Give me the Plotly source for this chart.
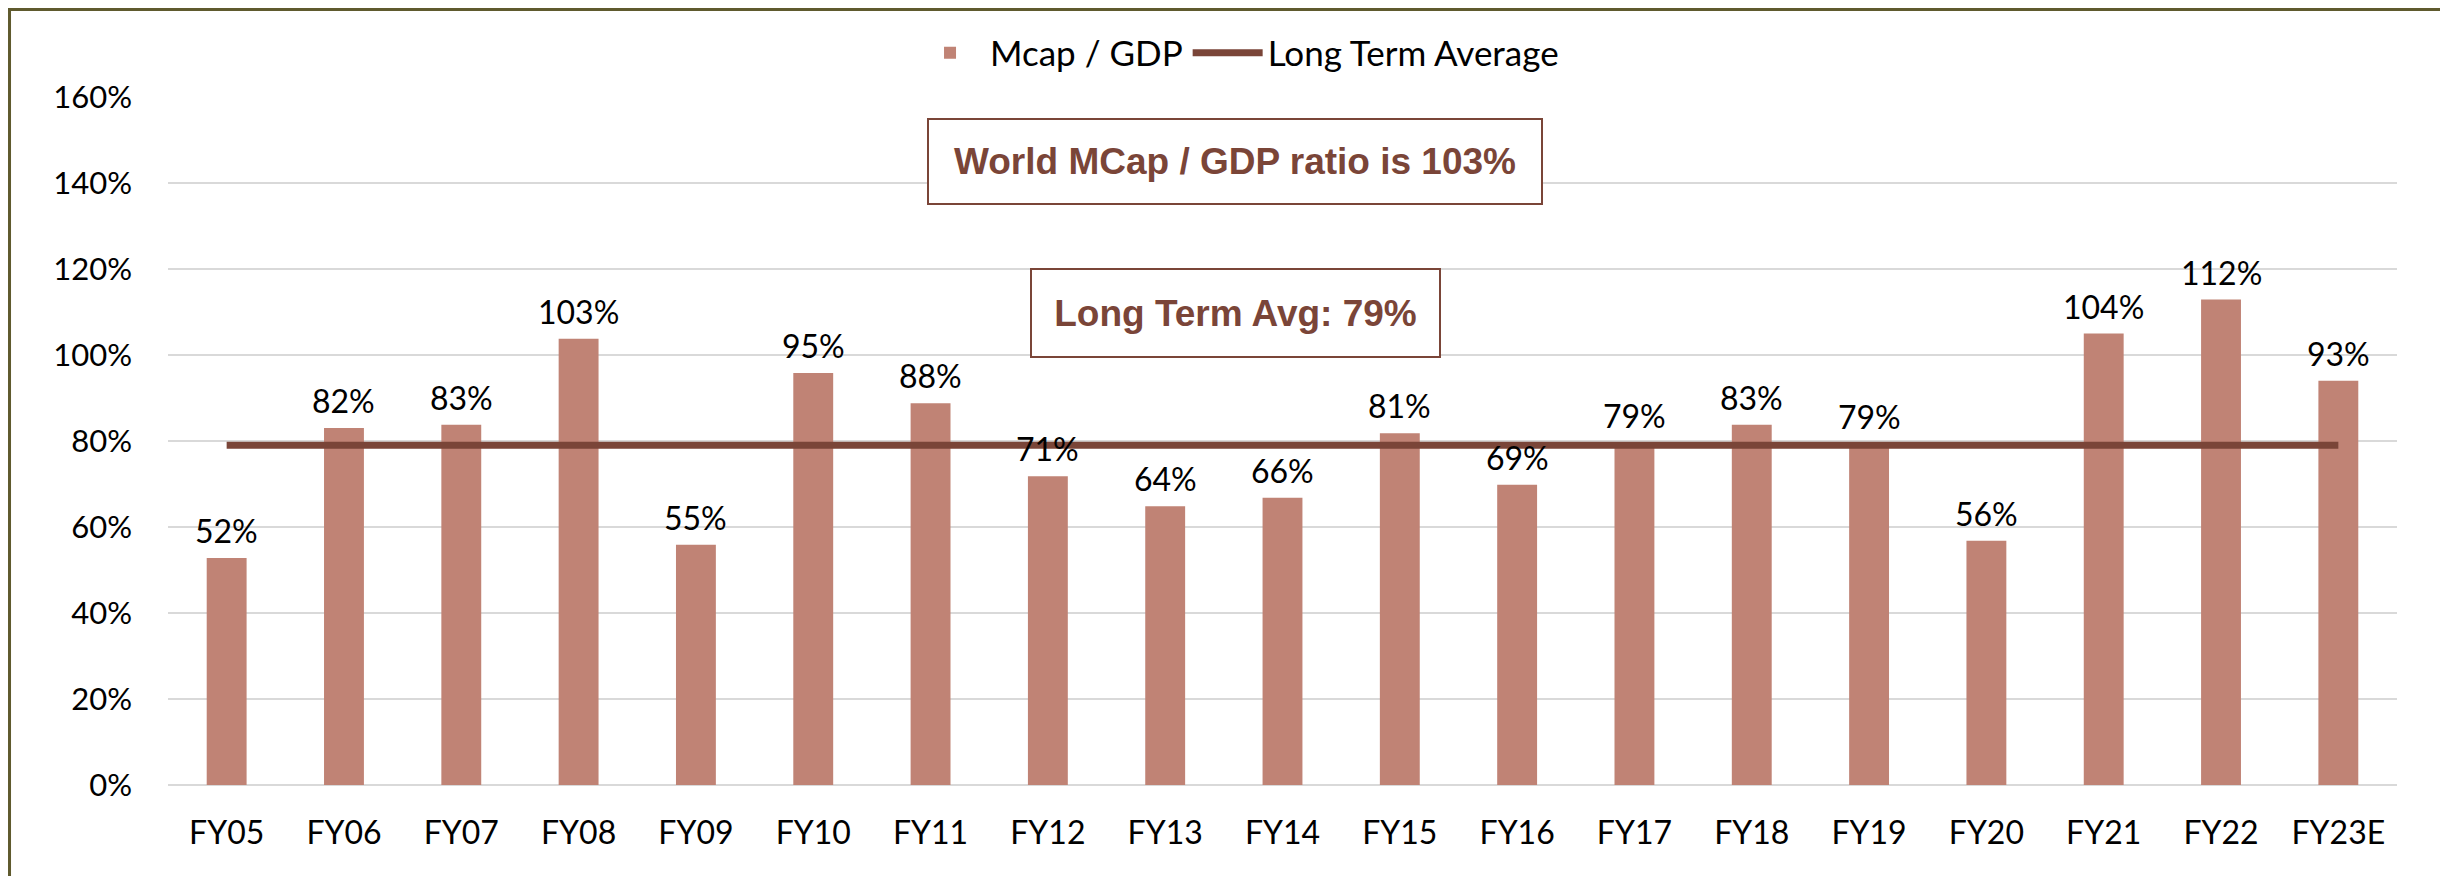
import plotly.graph_objects as go

# data
years = ['FY05', 'FY06', 'FY07', 'FY08', 'FY09', 'FY10', 'FY11', 'FY12', 'FY13', 'FY14',
         'FY15', 'FY16', 'FY17', 'FY18', 'FY19', 'FY20', 'FY21', 'FY22', 'FY23E']
mcap_gdp = [0.528, 0.830, 0.838, 1.038, 0.559, 0.958, 0.888, 0.718, 0.648, 0.668,
            0.818, 0.698, 0.796, 0.838, 0.792, 0.568, 1.050, 1.129, 0.940]
bar_labels = ['52%', '82%', '83%', '103%', '55%', '95%', '88%', '71%', '64%', '66%',
              '81%', '69%', '79%', '83%', '79%', '56%', '104%', '112%', '93%']
long_term_avg = [0.79, 0.79, 0.79, 0.79, 0.79, 0.79, 0.79, 0.79, 0.79, 0.79,
                 0.79, 0.79, 0.79, 0.79, 0.79, 0.79, 0.79, 0.79, 0.79]

BAR = '#C08375'
BROWN = '#7A4538'
LABEL_FONT = 'Lato'

fig = go.Figure()

fig.add_trace(go.Bar(x=years, y=mcap_gdp, name='Mcap / GDP',
                     marker=dict(color=BAR, line=dict(width=0))))

fig.add_trace(go.Scatter(x=years, y=long_term_avg, mode='lines',
                         name='Long Term Average',
                         line=dict(color=BROWN, width=7)))

# data labels above the bars
for yr, v, lab in zip(years, mcap_gdp, bar_labels):
    fig.add_annotation(x=yr, y=v, text=lab, showarrow=False,
                       yanchor='bottom', yshift=6,
                       font=dict(family=LABEL_FONT, size=32, color='#000000'))

# boxed call-outs
fig.add_annotation(xref='paper', yref='paper', x=0.4787, y=0.906,
                   xanchor='center', yanchor='middle',
                   text='<b>World MCap / GDP ratio is 103%</b>', showarrow=False,
                   font=dict(family='Liberation Sans', size=37, color=BROWN),
                   bordercolor=BROWN, borderwidth=2, borderpad=2,
                   width=608, height=79, bgcolor='white')
fig.add_annotation(xref='paper', yref='paper', x=0.4787, y=0.686,
                   xanchor='center', yanchor='middle',
                   text='<b>Long Term Avg: 79%</b>', showarrow=False,
                   font=dict(family='Liberation Sans', size=37, color=BROWN),
                   bordercolor=BROWN, borderwidth=2, borderpad=2,
                   width=403, height=82, bgcolor='white')

# outer chart border
fig.add_shape(type='rect', xref='paper', yref='paper',
              x0=-0.0711, x1=1.0224, y0=-0.3, y1=1.1272,
              line=dict(color='#5F5A2E', width=3), layer='below')

fig.update_layout(
    width=2440, height=868,
    margin=dict(l=160, r=51, t=89, b=91, autoexpand=False),
    plot_bgcolor='white', paper_bgcolor='white',
    bargap=0.66,
    font=dict(family=LABEL_FONT, size=32, color='#000000'),
    legend=dict(orientation='h', xref='container', yref='container',
                x=0.5037, y=0.9482, xanchor='center', yanchor='middle',
                font=dict(family=LABEL_FONT, size=35), itemwidth=70,
                bgcolor='rgba(0,0,0,0)'),
    showlegend=True,
)
fig.update_yaxes(range=[0, 1.6], dtick=0.2, tickformat='.0%',
                 showgrid=True, gridcolor='#D9D9D9', gridwidth=2,
                 zeroline=True, zerolinecolor='#D9D9D9', zerolinewidth=2,
                 showline=False, ticks='', ticklabelstandoff=35,
                 tickfont=dict(family=LABEL_FONT, size=31))
fig.update_xaxes(showgrid=False, showline=False, ticks='',
                 ticklabelstandoff=26,
                 tickfont=dict(family=LABEL_FONT, size=32))

fig.write_html('out.html')
